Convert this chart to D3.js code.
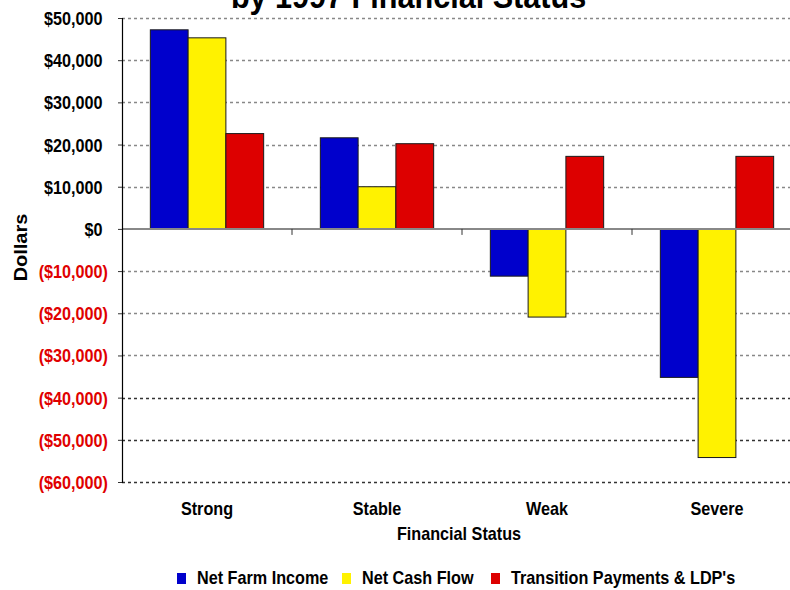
<!DOCTYPE html>
<html><head><meta charset="utf-8">
<script src="https://cdn.jsdelivr.net/npm/d3@7"></script>
<style>
body{margin:0;background:#fff;}
svg{display:block;font-family:"Liberation Sans",Arial,sans-serif;font-weight:bold;}
</style></head>
<body>
<script>
const categories = ["Strong","Stable","Weak","Severe"];
const seriesNames = ["Net Farm Income","Net Cash Flow","Transition Payments & LDP's"];
const netFarmIncome = [47200, 21600, -11200, -35200];
const netCashFlow = [45300, 10000, -20900, -54200];
const transitionPayments = [22600, 20200, 17200, 17200];
const yTicks = [50000,40000,30000,20000,10000,0,-10000,-20000,-30000,-40000,-50000,-60000];
const colors = ["#0000cc","#fff200","#dd0000"];

const W=790,H=590;
const SX=0.9; // horizontal condensing of text
const svg=d3.select("body").append("svg").attr("width",W).attr("height",H);
const pLeft=122,pRight=802,pTop=18,pBottom=482;

const x=d3.scaleBand().domain(categories).range([pLeft,pRight]).paddingInner(0).paddingOuter(0);
const xs=d3.scaleBand().domain(seriesNames).range([0,x.bandwidth()]).paddingInner(0).paddingOuter(0.75);
const y=d3.scaleLinear().domain([-60000,50000]).range([pBottom,pTop]);

function label(tx,ty,txt,size,anchor){
  return svg.append("text").attr("transform",`translate(${tx},${ty}) scale(${SX},1)`)
    .attr("text-anchor",anchor||"middle").attr("font-size",size).attr("fill","#000").text(txt);
}

// title (first line lies outside the view)
label(408.5,8,"by 1997 Financial Status",34);

// gridlines
svg.append("g").selectAll("line").data(yTicks.filter(d=>d!==0)).join("line")
  .attr("x1",pLeft).attr("x2",W).attr("y1",d=>Math.round(y(d))+0.5).attr("y2",d=>Math.round(y(d))+0.5)
  .attr("stroke",d=>d<=-40000?"#333":"#888").attr("stroke-width",1.5).attr("stroke-dasharray","3,3");

// bars
const series=[netFarmIncome,netCashFlow,transitionPayments];
const data=[];
categories.forEach((c,i)=>series.forEach((s,j)=>data.push({c,name:seriesNames[j],v:s[i],j})));
svg.append("g").selectAll("rect").data(data).join("rect")
  .attr("x",d=>x(d.c)+xs(d.name)).attr("width",xs.bandwidth())
  .attr("y",d=>y(Math.max(0,d.v))).attr("height",d=>Math.abs(y(d.v)-y(0)))
  .attr("fill",d=>colors[d.j]).attr("stroke","#1a1a1a").attr("stroke-width",1);

// zero line
svg.append("line").attr("x1",pLeft).attr("x2",W).attr("y1",y(0)).attr("y2",y(0))
  .attr("stroke","#888").attr("stroke-width",2);
// category boundary ticks
svg.append("g").selectAll("line").data(categories.slice(1)).join("line")
  .attr("x1",d=>x(d)).attr("x2",d=>x(d)).attr("y1",y(0)).attr("y2",y(0)+6)
  .attr("stroke","#333").attr("stroke-width",1);

// y axis
const yAxis=d3.axisLeft(y).tickValues(yTicks).tickSize(4).tickPadding(8)
  .tickFormat(d=>d<0?"($"+d3.format(",")(-d)+")":"$"+d3.format(",")(d));
const ya=svg.append("g").attr("transform",`translate(${pLeft},0)`).call(yAxis);
ya.select(".domain").attr("stroke","#000").attr("stroke-width",1.2);
ya.selectAll(".tick line").attr("stroke","#333");
ya.selectAll(".tick text").attr("x",0).attr("dy","0.36em")
  .attr("transform",d=>`translate(${d<0?-14:-19.5},0) scale(${SX},1)`)
  .attr("font-size",18).attr("font-family","Liberation Sans, Arial, sans-serif")
  .attr("font-weight","bold").attr("fill",d=>d<0?"#e00000":"#000");

// category labels
categories.forEach(c=>label(x(c)+x.bandwidth()/2,515,c,18));

label(459,540,"Financial Status",18);
svg.append("text").attr("transform","translate(27,247.5) rotate(-90) scale(1.11,1)")
  .attr("text-anchor","middle").attr("font-size",18).text("Dollars");

// legend
const legX=[177,342,491];
const lg=svg.append("g").selectAll("g").data(seriesNames).join("g")
  .attr("transform",(d,i)=>`translate(${legX[i]},573)`);
lg.append("rect").attr("width",9).attr("height",11).attr("fill",(d,i)=>colors[i]);
lg.append("text").attr("transform",`translate(20,11) scale(${SX},1)`).attr("font-size",18).text(d=>d);
</script>
</body></html>
